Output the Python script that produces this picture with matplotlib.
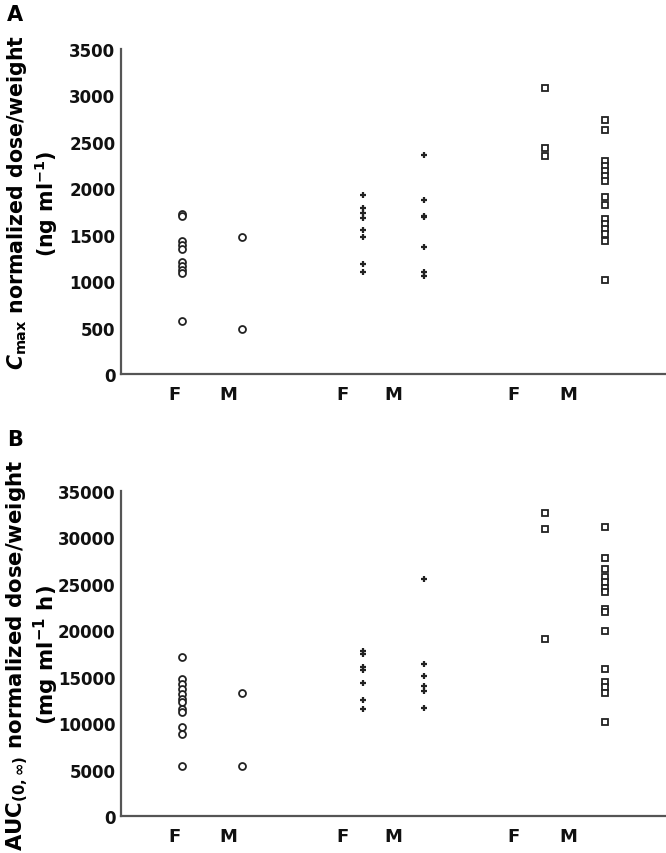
import matplotlib
matplotlib.use("Agg")
import matplotlib.pyplot as plt

plt.rcParams['font.family'] = ['DejaVu Sans']
plt.rcParams['mathtext.fontset'] = 'custom'
plt.rcParams['mathtext.rm'] = 'DejaVu Sans:bold'
plt.rcParams['mathtext.it'] = 'DejaVu Sans:italic:bold'
plt.rcParams['mathtext.bf'] = 'DejaVu Sans:bold'

# group positions and tick labels
group_x = [1, 2, 4, 5, 7, 8]
label_x = [0.88, 1.77, 3.65, 4.50, 6.48, 7.39]
labels = ['F', 'M', 'F', 'M', 'F', 'M']
markers = ['o', 'o', '+', '+', 's', 's']

# panel A: Cmax normalized dose/weight (ng/ml)
cmax_f1 = [1720, 1700, 1430, 1390, 1350, 1210, 1160, 1120, 1090, 570]
cmax_m1 = [1470, 480]
cmax_f2 = [1930, 1790, 1730, 1680, 1550, 1480, 1185, 1100]
cmax_m2 = [2360, 1870, 1705, 1695, 1365, 1100, 1060]
cmax_f3 = [3080, 2430, 2345]
cmax_m3 = [2735, 2630, 2295, 2245, 2190, 2135, 2080, 1905, 1815,
           1670, 1615, 1560, 1510, 1435, 1015]

# panel B: AUC(0,inf) normalized dose/weight
auc_f1 = [17100, 14750, 14200, 13700, 13150, 12600, 12250, 11500, 11150,
          9550, 8850, 5400]
auc_m1 = [13300, 5350]
auc_f2 = [17800, 17500, 16000, 15750, 14300, 12500, 11500]
auc_m2 = [25500, 16350, 15100, 14050, 13500, 11650]
auc_f3 = [32600, 30900, 19100]
auc_m3 = [31150, 27800, 26600, 25700, 25150, 24600, 24100, 22300, 21950,
          19950, 15850, 14450, 13850, 13300, 10100]

fig = plt.figure(figsize=(6.66, 8.54), dpi=100)
axA = fig.add_axes([0.1817, 0.5609, 0.8183, 0.3806])
axB = fig.add_axes([0.1817, 0.0433, 0.8183, 0.3806])


def draw(ax, groups, ymax, step):
    for x, vals, m in zip(group_x, groups, markers):
        if m == '+':
            ax.plot([x] * len(vals), vals, ls='none', marker='+', ms=5,
                    mew=1.6, color='#222222')
        else:
            ax.plot([x] * len(vals), vals, ls='none', marker=m, ms=5,
                    mfc='white', mec='#222222', mew=1.3)
    ax.set_xlim(0, 9)
    ax.set_ylim(0, ymax)
    ax.set_yticks(range(0, ymax + 1, step))
    ax.set_xticks(label_x)
    ax.set_xticklabels(labels, fontsize=13, fontweight='bold')
    for t in ax.get_yticklabels():
        t.set_fontsize(12)
        t.set_fontweight('bold')
    ax.tick_params(length=0, pad=4, colors='#111111')
    ax.tick_params(axis='x', pad=8)
    for s in ['top', 'right']:
        ax.spines[s].set_visible(False)
    for s in ['left', 'bottom']:
        ax.spines[s].set_color('#555555')
        ax.spines[s].set_linewidth(1.6)


draw(axA, [cmax_f1, cmax_m1, cmax_f2, cmax_m2, cmax_f3, cmax_m3], 3500, 500)
draw(axB, [auc_f1, auc_m1, auc_f2, auc_m2, auc_f3, auc_m3], 35000, 5000)

fig.text(0.022, 0.982, 'A', fontsize=15, fontweight='bold', ha='center', va='center')
fig.text(0.022, 0.485, 'B', fontsize=15, fontweight='bold', ha='center', va='center')

fig.text(0.026, 0.7635, r'$C_{\rm max}$ normalized dose/weight', rotation=90,
         fontsize=14.8, fontweight='bold', ha='center', va='center')
fig.text(0.069, 0.762, r'(ng ml$^{-1}$)', rotation=90,
         fontsize=14.8, fontweight='bold', ha='center', va='center')
fig.text(0.026, 0.233, r'AUC$_{(0,\infty)}$ normalized dose/weight', rotation=90,
         fontsize=15.3, fontweight='bold', ha='center', va='center')
fig.text(0.069, 0.233, r'(mg ml$^{-1}$ h)', rotation=90,
         fontsize=15.3, fontweight='bold', ha='center', va='center')

fig.savefig('out.png', dpi=100)
